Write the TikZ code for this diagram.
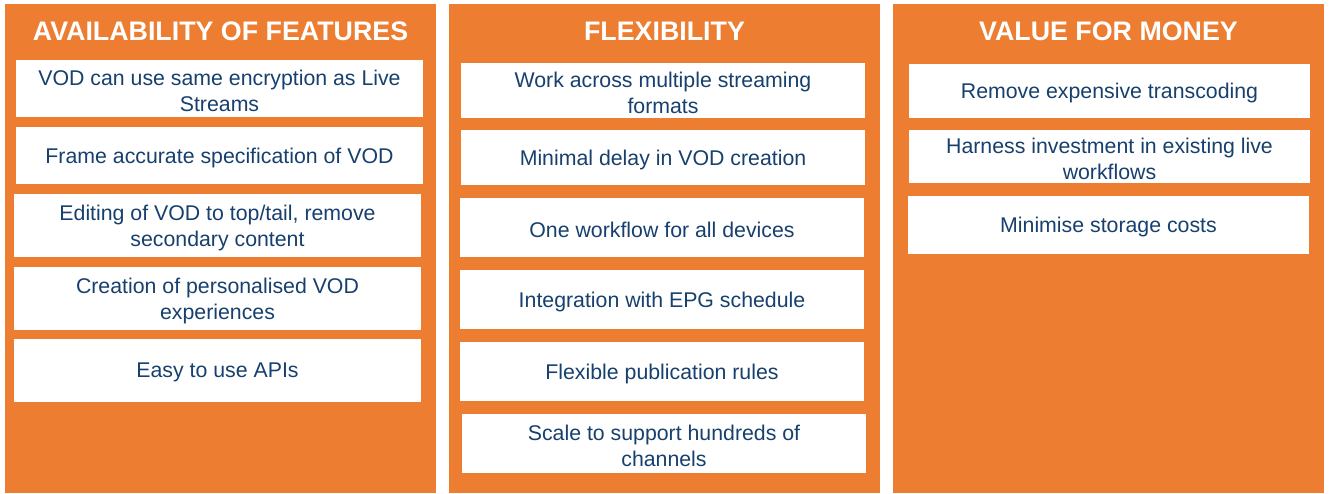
\documentclass[tikz,border=0pt]{standalone}
\usepackage{fontspec}
\setmainfont{Liberation Sans}
\definecolor{orng}{HTML}{ED7D31}
\definecolor{navy}{HTML}{17406E}
\newcommand\itembox[6]{%
  \node[itembg,minimum width=#4pt,minimum height=#5pt] (#1) at (#2,#3) {};
  \node[itemtext] (#1t) at ([yshift=-2pt]#1.center) {#6};}
\begin{document}
\begin{tikzpicture}[x=1pt,y=-1pt,
  colbox/.style={fill=orng,draw=none},
  title/.style={text=white,font=\fontsize{26.8}{30}\selectfont\bfseries,inner sep=0pt},
  itembg/.style={fill=white,draw=none,inner sep=0pt},
  itemtext/.style={text=navy,align=center,inner sep=0pt,
    font=\fontsize{21.3}{26}\selectfont}]
\useasboundingbox[fill=white] (0,0) rectangle (1330,494);
% columns
\path[colbox] (5,4) rectangle (436,493);
\path[colbox] (449,4) rectangle (880,493);
\path[colbox] (893,4) rectangle (1324,493);
% titles
\node[title] (t1) at (220.5,31) {AVAILABILITY OF FEATURES};
\node[title] (t2) at (664.5,31) {FLEXIBILITY};
\node[title] (t3) at (1108.5,31) {VALUE FOR MONEY};
% column 1
\itembox{a1}{219.5}{88.5}{407}{57}{VOD can use same encryption as Live\\Streams}
\itembox{a2}{219.5}{155.5}{407}{57}{Frame accurate specification of VOD}
\itembox{a3}{217.5}{225.5}{407}{63}{Editing of VOD to top/tail, remove\\secondary content}
\itembox{a4}{217.5}{298.5}{407}{63}{Creation of personalised VOD\\experiences}
\itembox{a5}{217.5}{370.5}{407}{63}{Easy to use APIs}
% column 2
\itembox{b1}{663}{90.5}{404}{55}{Work across multiple streaming\\formats}
\itembox{b2}{663}{157.5}{404}{55}{Minimal delay in VOD creation}
\itembox{b3}{662}{227.5}{404}{59}{One workflow for all devices}
\itembox{b4}{662}{299.5}{404}{59}{Integration with EPG schedule}
\itembox{b5}{662}{371.5}{404}{59}{Flexible publication rules}
\itembox{b6}{664}{443.5}{404}{59}{Scale to support hundreds of\\channels}
% column 3
\itembox{c1}{1109.5}{91}{401}{54}{Remove expensive transcoding}
\itembox{c2}{1109.5}{156.5}{401}{53}{Harness investment in existing live\\workflows}
\itembox{c3}{1108.5}{225}{401}{58}{Minimise storage costs}
\end{tikzpicture}
\end{document}
